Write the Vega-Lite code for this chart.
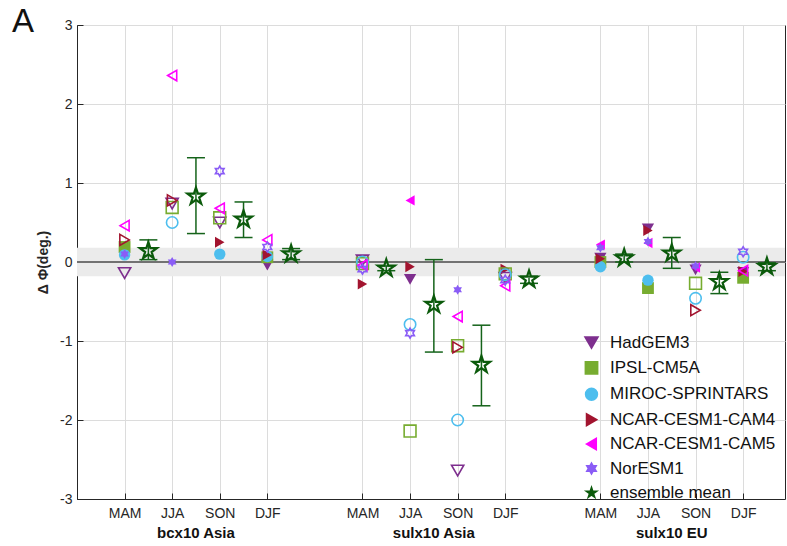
{
  "$schema": "https://vega.github.io/schema/vega-lite/v6.json",
  "width": 708,
  "height": 474,
  "autosize": {"type": "none"},
  "padding": {"left": 77, "top": 25, "right": 2, "bottom": 47},
  "config": {
    "font": "Liberation Sans",
    "view": {"stroke": "#262626", "strokeWidth": 1},
    "axis": {"labelColor": "#262626", "titleColor": "#262626", "domainColor": "#262626", "tickColor": "#262626"}
  },
  "datasets": {
    "models": [
      {"exp": "bcx10 Asia", "season": "MAM", "model": "HadGEM3", "value": -0.14, "sig": false},
      {"exp": "bcx10 Asia", "season": "JJA", "model": "HadGEM3", "value": 0.74, "sig": false},
      {"exp": "bcx10 Asia", "season": "SON", "model": "HadGEM3", "value": 0.5, "sig": false},
      {"exp": "bcx10 Asia", "season": "DJF", "model": "HadGEM3", "value": -0.04, "sig": true},
      {"exp": "sulx10 Asia", "season": "MAM", "model": "HadGEM3", "value": 0.02, "sig": false},
      {"exp": "sulx10 Asia", "season": "JJA", "model": "HadGEM3", "value": -0.22, "sig": true},
      {"exp": "sulx10 Asia", "season": "SON", "model": "HadGEM3", "value": -2.64, "sig": false},
      {"exp": "sulx10 Asia", "season": "DJF", "model": "HadGEM3", "value": -0.2, "sig": false},
      {"exp": "sulx10 EU", "season": "MAM", "model": "HadGEM3", "value": 0.05, "sig": true},
      {"exp": "sulx10 EU", "season": "JJA", "model": "HadGEM3", "value": 0.42, "sig": true},
      {"exp": "sulx10 EU", "season": "SON", "model": "HadGEM3", "value": -0.1, "sig": true},
      {"exp": "sulx10 EU", "season": "DJF", "model": "HadGEM3", "value": -0.13, "sig": true},
      {"exp": "bcx10 Asia", "season": "MAM", "model": "IPSL-CM5A", "value": 0.19, "sig": true},
      {"exp": "bcx10 Asia", "season": "JJA", "model": "IPSL-CM5A", "value": 0.69, "sig": false},
      {"exp": "bcx10 Asia", "season": "SON", "model": "IPSL-CM5A", "value": 0.56, "sig": false},
      {"exp": "bcx10 Asia", "season": "DJF", "model": "IPSL-CM5A", "value": 0.06, "sig": true},
      {"exp": "sulx10 Asia", "season": "MAM", "model": "IPSL-CM5A", "value": -0.02, "sig": false},
      {"exp": "sulx10 Asia", "season": "JJA", "model": "IPSL-CM5A", "value": -2.14, "sig": false},
      {"exp": "sulx10 Asia", "season": "SON", "model": "IPSL-CM5A", "value": -1.06, "sig": false},
      {"exp": "sulx10 Asia", "season": "DJF", "model": "IPSL-CM5A", "value": -0.15, "sig": false},
      {"exp": "sulx10 EU", "season": "MAM", "model": "IPSL-CM5A", "value": 0.0, "sig": true},
      {"exp": "sulx10 EU", "season": "JJA", "model": "IPSL-CM5A", "value": -0.33, "sig": true},
      {"exp": "sulx10 EU", "season": "SON", "model": "IPSL-CM5A", "value": -0.27, "sig": false},
      {"exp": "sulx10 EU", "season": "DJF", "model": "IPSL-CM5A", "value": -0.2, "sig": true},
      {"exp": "bcx10 Asia", "season": "MAM", "model": "MIROC-SPRINTARS", "value": 0.09, "sig": true},
      {"exp": "bcx10 Asia", "season": "JJA", "model": "MIROC-SPRINTARS", "value": 0.5, "sig": false},
      {"exp": "bcx10 Asia", "season": "SON", "model": "MIROC-SPRINTARS", "value": 0.1, "sig": true},
      {"exp": "bcx10 Asia", "season": "DJF", "model": "MIROC-SPRINTARS", "value": 0.07, "sig": true},
      {"exp": "sulx10 Asia", "season": "MAM", "model": "MIROC-SPRINTARS", "value": 0.0, "sig": false},
      {"exp": "sulx10 Asia", "season": "JJA", "model": "MIROC-SPRINTARS", "value": -0.79, "sig": false},
      {"exp": "sulx10 Asia", "season": "SON", "model": "MIROC-SPRINTARS", "value": -2.0, "sig": false},
      {"exp": "sulx10 Asia", "season": "DJF", "model": "MIROC-SPRINTARS", "value": -0.16, "sig": false},
      {"exp": "sulx10 EU", "season": "MAM", "model": "MIROC-SPRINTARS", "value": -0.06, "sig": true},
      {"exp": "sulx10 EU", "season": "JJA", "model": "MIROC-SPRINTARS", "value": -0.23, "sig": true},
      {"exp": "sulx10 EU", "season": "SON", "model": "MIROC-SPRINTARS", "value": -0.46, "sig": false},
      {"exp": "sulx10 EU", "season": "DJF", "model": "MIROC-SPRINTARS", "value": 0.06, "sig": false},
      {"exp": "bcx10 Asia", "season": "MAM", "model": "NCAR-CESM1-CAM4", "value": 0.28, "sig": false},
      {"exp": "bcx10 Asia", "season": "JJA", "model": "NCAR-CESM1-CAM4", "value": 0.78, "sig": false},
      {"exp": "bcx10 Asia", "season": "SON", "model": "NCAR-CESM1-CAM4", "value": 0.25, "sig": true},
      {"exp": "bcx10 Asia", "season": "DJF", "model": "NCAR-CESM1-CAM4", "value": 0.09, "sig": true},
      {"exp": "sulx10 Asia", "season": "MAM", "model": "NCAR-CESM1-CAM4", "value": -0.28, "sig": true},
      {"exp": "sulx10 Asia", "season": "JJA", "model": "NCAR-CESM1-CAM4", "value": -0.06, "sig": true},
      {"exp": "sulx10 Asia", "season": "SON", "model": "NCAR-CESM1-CAM4", "value": -1.08, "sig": false},
      {"exp": "sulx10 Asia", "season": "DJF", "model": "NCAR-CESM1-CAM4", "value": -0.09, "sig": true},
      {"exp": "sulx10 EU", "season": "MAM", "model": "NCAR-CESM1-CAM4", "value": 0.04, "sig": true},
      {"exp": "sulx10 EU", "season": "JJA", "model": "NCAR-CESM1-CAM4", "value": 0.4, "sig": true},
      {"exp": "sulx10 EU", "season": "SON", "model": "NCAR-CESM1-CAM4", "value": -0.61, "sig": false},
      {"exp": "sulx10 EU", "season": "DJF", "model": "NCAR-CESM1-CAM4", "value": -0.12, "sig": true},
      {"exp": "bcx10 Asia", "season": "MAM", "model": "NCAR-CESM1-CAM5", "value": 0.46, "sig": false},
      {"exp": "bcx10 Asia", "season": "JJA", "model": "NCAR-CESM1-CAM5", "value": 2.36, "sig": false},
      {"exp": "bcx10 Asia", "season": "SON", "model": "NCAR-CESM1-CAM5", "value": 0.68, "sig": false},
      {"exp": "bcx10 Asia", "season": "DJF", "model": "NCAR-CESM1-CAM5", "value": 0.28, "sig": false},
      {"exp": "sulx10 Asia", "season": "MAM", "model": "NCAR-CESM1-CAM5", "value": -0.04, "sig": false},
      {"exp": "sulx10 Asia", "season": "JJA", "model": "NCAR-CESM1-CAM5", "value": 0.78, "sig": true},
      {"exp": "sulx10 Asia", "season": "SON", "model": "NCAR-CESM1-CAM5", "value": -0.69, "sig": false},
      {"exp": "sulx10 Asia", "season": "DJF", "model": "NCAR-CESM1-CAM5", "value": -0.3, "sig": false},
      {"exp": "sulx10 EU", "season": "MAM", "model": "NCAR-CESM1-CAM5", "value": 0.22, "sig": true},
      {"exp": "sulx10 EU", "season": "JJA", "model": "NCAR-CESM1-CAM5", "value": 0.24, "sig": true},
      {"exp": "sulx10 EU", "season": "SON", "model": "NCAR-CESM1-CAM5", "value": -0.07, "sig": true},
      {"exp": "sulx10 EU", "season": "DJF", "model": "NCAR-CESM1-CAM5", "value": -0.11, "sig": false},
      {"exp": "bcx10 Asia", "season": "MAM", "model": "NorESM1", "value": 0.1, "sig": true},
      {"exp": "bcx10 Asia", "season": "JJA", "model": "NorESM1", "value": 0.0, "sig": true},
      {"exp": "bcx10 Asia", "season": "SON", "model": "NorESM1", "value": 1.15, "sig": false},
      {"exp": "bcx10 Asia", "season": "DJF", "model": "NorESM1", "value": 0.19, "sig": false},
      {"exp": "sulx10 Asia", "season": "MAM", "model": "NorESM1", "value": -0.09, "sig": false},
      {"exp": "sulx10 Asia", "season": "JJA", "model": "NorESM1", "value": -0.9, "sig": false},
      {"exp": "sulx10 Asia", "season": "SON", "model": "NorESM1", "value": -0.35, "sig": true},
      {"exp": "sulx10 Asia", "season": "DJF", "model": "NorESM1", "value": -0.23, "sig": false},
      {"exp": "sulx10 EU", "season": "MAM", "model": "NorESM1", "value": 0.18, "sig": true},
      {"exp": "sulx10 EU", "season": "JJA", "model": "NorESM1", "value": 0.26, "sig": true},
      {"exp": "sulx10 EU", "season": "SON", "model": "NorESM1", "value": -0.05, "sig": true},
      {"exp": "sulx10 EU", "season": "DJF", "model": "NorESM1", "value": 0.13, "sig": false}
    ],
    "ens": [
      {"exp": "bcx10 Asia", "season": "MAM", "model": "ensemble mean", "value": 0.14, "lo": 0.03, "hi": 0.28},
      {"exp": "bcx10 Asia", "season": "JJA", "model": "ensemble mean", "value": 0.83, "lo": 0.36, "hi": 1.32},
      {"exp": "bcx10 Asia", "season": "SON", "model": "ensemble mean", "value": 0.54, "lo": 0.31, "hi": 0.76},
      {"exp": "bcx10 Asia", "season": "DJF", "model": "ensemble mean", "value": 0.1, "lo": 0.03, "hi": 0.17},
      {"exp": "sulx10 Asia", "season": "MAM", "model": "ensemble mean", "value": -0.08, "lo": -0.11, "hi": -0.05},
      {"exp": "sulx10 Asia", "season": "JJA", "model": "ensemble mean", "value": -0.54, "lo": -1.14, "hi": 0.03},
      {"exp": "sulx10 Asia", "season": "SON", "model": "ensemble mean", "value": -1.3, "lo": -1.82, "hi": -0.8},
      {"exp": "sulx10 Asia", "season": "DJF", "model": "ensemble mean", "value": -0.22, "lo": -0.27, "hi": -0.18},
      {"exp": "sulx10 EU", "season": "MAM", "model": "ensemble mean", "value": 0.05, "lo": 0.0, "hi": 0.1},
      {"exp": "sulx10 EU", "season": "JJA", "model": "ensemble mean", "value": 0.11, "lo": -0.08, "hi": 0.31},
      {"exp": "sulx10 EU", "season": "SON", "model": "ensemble mean", "value": -0.25, "lo": -0.4, "hi": -0.13},
      {"exp": "sulx10 EU", "season": "DJF", "model": "ensemble mean", "value": -0.06, "lo": -0.11, "hi": -0.01}
    ],
    "groups": [
      {"exp": "bcx10 Asia"},
      {"exp": "sulx10 Asia"},
      {"exp": "sulx10 EU"}
    ],
    "band": [{"lo": -0.18, "hi": 0.18, "zero": 0, "panel": "A", "xmin": 0, "ymax": 3}]
  },
  "layer": [
    {
      "data": {"name": "band"},
      "mark": {"type": "rect", "color": "#ebebeb"},
      "encoding": {
        "y": {"field": "lo", "type": "quantitative", "scale": {"domain": [-3, 3], "nice": false, "zero": false},
          "axis": {"values": [-3, -2.75, -2.5, -2.25, -2, -1.75, -1.5, -1.25, -1, -0.75, -0.5, -0.25, 0, 0.25, 0.5, 0.75, 1, 1.25, 1.5, 1.75, 2, 2.25, 2.5, 2.75, 3], "labelExpr": "datum.value % 0.5 == 0 ? '' + datum.value : ''", "labelFontSize": 14, "labelPadding": 11, "tickSize": -6, "grid": true, "gridColor": "#dcdcdc", "gridOpacity": {"condition": {"test": "datum.value % 0.5 == 0", "value": 1}, "value": 0}, "title": "Δ Φ(deg.)", "titleFontSize": 14, "titleFontWeight": "bold", "titlePadding": 9}},
        "y2": {"field": "hi"}
      }
    },
    {
      "data": {"name": "band"},
      "mark": {"type": "rule", "color": "#4a4a4a", "strokeWidth": 1.3},
      "encoding": {
        "y": {"field": "zero", "type": "quantitative"}
      }
    },
    {
      "data": {"name": "models"},
      "transform": [
        {"calculate": "indexof(['bcx10 Asia','sulx10 Asia','sulx10 EU'], datum.exp)*5 + indexof(['MAM','JJA','SON','DJF'], datum.season) + 1", "as": "xpos"},
        {"calculate": "datum.model", "as": "mkey"},
        {"filter": "datum.sig"}
      ],
      "mark": {"type": "point", "strokeWidth": 1.6, "opacity": 1, "filled": true},
      "encoding": {
        "x": {"field": "xpos", "type": "quantitative", "scale": {"domain": [0, 14.88], "nice": false, "zero": false},
          "axis": {"values": [1, 2, 3, 4, 6, 7, 8, 9, 11, 12, 13, 14], "labelExpr": "['','MAM','JJA','SON','DJF'][datum.value % 5]", "labelFontSize": 14, "labelPadding": 13, "tickSize": -6, "grid": true, "gridColor": "#dcdcdc", "title": null}},
        "y": {"field": "value", "type": "quantitative"},
        "shape": {"field": "model", "type": "nominal",
          "scale": {"domain": ["HadGEM3", "IPSL-CM5A", "MIROC-SPRINTARS", "NCAR-CESM1-CAM4", "NCAR-CESM1-CAM5", "NorESM1", "ensemble mean"],
            "range": ["triangle-down", "square", "circle", "triangle-right", "triangle-left", "M0,-1L0.289,-0.5L0.866,-0.5L0.577,0L0.866,0.5L0.289,0.5L0,1L-0.289,0.5L-0.866,0.5L-0.577,0L-0.866,-0.5L-0.289,-0.5Z", "M0,-1L0.2245,-0.309L0.9511,-0.309L0.3633,0.118L0.5878,0.809L0,0.382L-0.5878,0.809L-0.3633,0.118L-0.9511,-0.309L-0.2245,-0.309Z"]}},
        "color": {"field": "model", "type": "nominal",
          "scale": {"domain": ["HadGEM3", "IPSL-CM5A", "MIROC-SPRINTARS", "NCAR-CESM1-CAM4", "NCAR-CESM1-CAM5", "NorESM1", "ensemble mean"],
            "range": ["#7E2F8E", "#77AC30", "#4DBEEE", "#A2142F", "#FF00FF", "#8A5CF6", "#0B5A0B"]}},
        "size": {"field": "mkey", "type": "nominal",
          "scale": {"domain": ["HadGEM3", "IPSL-CM5A", "MIROC-SPRINTARS", "NCAR-CESM1-CAM4", "NCAR-CESM1-CAM5", "NorESM1", "ensemble mean"],
            "range": [150, 90, 110, 150, 150, 160, 340]},
          "legend": null}
      }
    },
    {
      "data": {"name": "models"},
      "transform": [
        {"calculate": "indexof(['bcx10 Asia','sulx10 Asia','sulx10 EU'], datum.exp)*5 + indexof(['MAM','JJA','SON','DJF'], datum.season) + 1", "as": "xpos"},
        {"calculate": "datum.model", "as": "mkey"},
        {"filter": "!datum.sig"}
      ],
      "mark": {"type": "point", "strokeWidth": 1.6, "opacity": 1, "filled": false},
      "encoding": {
        "x": {"field": "xpos", "type": "quantitative"},
        "y": {"field": "value", "type": "quantitative"},
        "shape": {"field": "model", "type": "nominal",
          "legend": {"title": null, "orient": "none", "legendX": 506, "legendY": 309, "labelFontSize": 17, "labelColor": "#111111", "labelLimit": 400, "symbolSize": 45, "symbolStrokeWidth": 2, "labelOffset": 10, "rowPadding": 5.4, "padding": 0,
            "encode": {"symbols": {"update": {"fill": {"value": "transparent"}, "strokeWidth": {"value": 2}}}}}},
        "color": {"field": "model", "type": "nominal",
          "legend": {"title": null, "orient": "none", "legendX": 506, "legendY": 309, "labelFontSize": 17, "labelColor": "#111111", "labelLimit": 400, "symbolSize": 45, "symbolStrokeWidth": 2, "labelOffset": 10, "rowPadding": 5.4, "padding": 0,
            "encode": {"symbols": {"update": {"fill": {"value": "transparent"}, "strokeWidth": {"value": 2}}}}}},
        "size": {"field": "mkey", "type": "nominal", "legend": null}
      }
    },
    {
      "data": {"name": "ens"},
      "transform": [
        {"calculate": "indexof(['bcx10 Asia','sulx10 Asia','sulx10 EU'], datum.exp)*5 + indexof(['MAM','JJA','SON','DJF'], datum.season) + 1.5", "as": "xpos"}
      ],
      "mark": {"type": "rule", "color": "#15631a", "strokeWidth": 1.5, "opacity": 1},
      "encoding": {
        "x": {"field": "xpos", "type": "quantitative"},
        "y": {"field": "lo", "type": "quantitative"},
        "y2": {"field": "hi"}
      }
    },
    {
      "data": {"name": "ens"},
      "transform": [
        {"calculate": "indexof(['bcx10 Asia','sulx10 Asia','sulx10 EU'], datum.exp)*5 + indexof(['MAM','JJA','SON','DJF'], datum.season) + 1.5", "as": "xpos"}
      ],
      "mark": {"type": "tick", "color": "#15631a", "thickness": 1.5, "size": 18, "orient": "horizontal", "opacity": 1},
      "encoding": {
        "x": {"field": "xpos", "type": "quantitative"},
        "y": {"field": "lo", "type": "quantitative"}
      }
    },
    {
      "data": {"name": "ens"},
      "transform": [
        {"calculate": "indexof(['bcx10 Asia','sulx10 Asia','sulx10 EU'], datum.exp)*5 + indexof(['MAM','JJA','SON','DJF'], datum.season) + 1.5", "as": "xpos"}
      ],
      "mark": {"type": "tick", "color": "#15631a", "thickness": 1.5, "size": 18, "orient": "horizontal", "opacity": 1},
      "encoding": {
        "x": {"field": "xpos", "type": "quantitative"},
        "y": {"field": "hi", "type": "quantitative"}
      }
    },
    {
      "data": {"name": "ens"},
      "transform": [
        {"calculate": "indexof(['bcx10 Asia','sulx10 Asia','sulx10 EU'], datum.exp)*5 + indexof(['MAM','JJA','SON','DJF'], datum.season) + 1.5", "as": "xpos"}
      ],
      "mark": {"type": "point", "strokeWidth": 2.2, "filled": false, "fill": "transparent", "stroke": "#0B5A0B", "size": 320, "opacity": 1,
        "shape": "M0,-1L0.2245,-0.309L0.9511,-0.309L0.3633,0.118L0.5878,0.809L0,0.382L-0.5878,0.809L-0.3633,0.118L-0.9511,-0.309L-0.2245,-0.309Z"},
      "encoding": {
        "x": {"field": "xpos", "type": "quantitative"},
        "y": {"field": "value", "type": "quantitative"}
      }
    },
    {
      "data": {"name": "groups"},
      "transform": [
        {"calculate": "indexof(['bcx10 Asia','sulx10 Asia','sulx10 EU'], datum.exp)*5 + 2.5", "as": "xpos"},
        {"calculate": "-3", "as": "ybase"}
      ],
      "mark": {"type": "text", "fontWeight": "bold", "fontSize": 15, "dy": 34, "baseline": "middle", "color": "#111111"},
      "encoding": {
        "x": {"field": "xpos", "type": "quantitative"},
        "y": {"field": "ybase", "type": "quantitative"},
        "text": {"field": "exp"}
      }
    },
    {
      "data": {"name": "band"},
      "mark": {"type": "text", "fontSize": 33, "align": "left", "baseline": "alphabetic", "dx": -65, "dy": 7, "color": "#111111"},
      "encoding": {
        "x": {"field": "xmin", "type": "quantitative"},
        "y": {"field": "ymax", "type": "quantitative"},
        "text": {"field": "panel"}
      }
    }
  ]
}
